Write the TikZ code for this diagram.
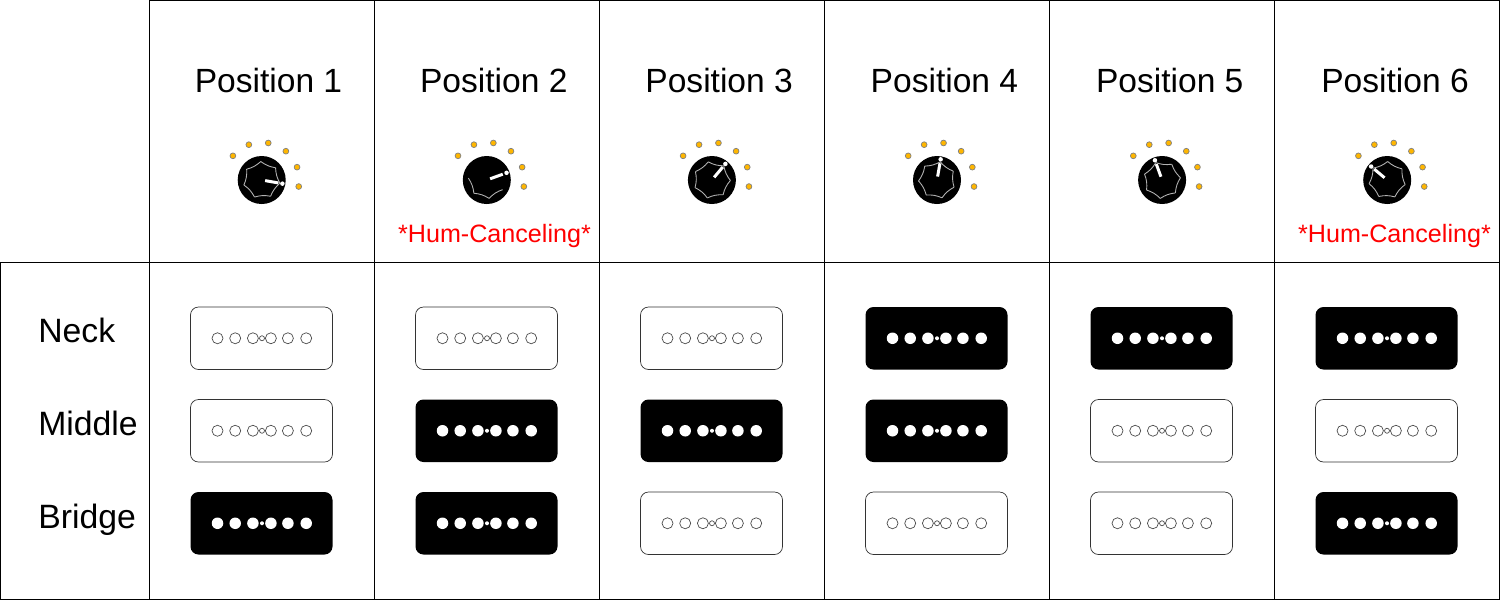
\documentclass[tikz,border=0pt]{standalone}
\usepackage{fontspec}
\setmainfont{Liberation Sans}
\usetikzlibrary{positioning, calc}
\definecolor{lamp}{HTML}{FFB600}

% switch marks around a knob: #1 node, #2 pointer angle, #3 first and #4 last side
\newcommand{\knobmarks}[4]{
	\foreach \a in {-10,20,50,80,110,140}
		\fill[lamp, draw=gray, thin] (#1.center) ++(\a:0.752) circle (0.058);
	\draw[white, line width=1.7pt] (#1.center) ++(#2:0.07) -- ++(#2:0.27);
	\fill[white] (#1.center) ++(#2:0.42) circle (0.045);
	\foreach \k in {#3,...,#4}
		\draw[white!70!black, line width=0.5pt] (#1.center) ++(#2+\k*51.43:0.37)
			to[bend left=13] ($(#1.center)+(#2+\k*51.43+51.43:0.37)$);
}

\begin{document}
\begin{tikzpicture}[
	pickupoff/.style = {draw = black!80, thin, rounded corners = 0.16cm, minimum width = 2.84cm,
		minimum height = 1.25cm, inner sep = 0pt, outer sep = 0pt},
	pickupon/.style = {fill = black, rounded corners = 0.16cm, minimum width = 2.84cm,
		minimum height = 1.25cm, inner sep = 0pt, outer sep = 0pt},
	knob/.style = {circle, fill = black, minimum size = 0.96cm, inner sep = 0pt},
	heading/.style = {font = \fontsize{19.1}{23}\selectfont, inner sep = 0pt},
	rowname/.style = {font = \fontsize{19.2}{23}\selectfont, inner sep = 0pt, anchor = base west},
	hum/.style = {font = \fontsize{14.3}{18}\selectfont, text = red, inner sep = 0pt},
	node distance = 0.6cm and 1.66cm, % gaps between pickups
	]
	
	\useasboundingbox (0,0) rectangle (30,-12);
	
	% table
	\draw[thin] (2.99,0) -- (2.99,-12);
	\draw[thin] (7.49,0) -- (7.49,-12);
	\draw[thin] (11.99,0) -- (11.99,-12);
	\draw[thin] (16.49,0) -- (16.49,-12);
	\draw[thin] (20.99,0) -- (20.99,-12);
	\draw[thin] (25.49,0) -- (25.49,-12);
	\draw[thin] (0,-5.25) -- (30,-5.25);
	\draw[thin] (2.99,-0.01) -- (29.99,-0.01) -- (29.99,-11.99) -- (0.01,-11.99) -- (0.01,-5.25);
	
	\node[heading] (p1) at (5.37,-1.61) {Position 1};
	\node[heading] (p2) [right=1.544cm of p1] {Position 2};
	\node[heading] (p3) [right=1.544cm of p2] {Position 3};
	\node[heading] (p4) [right=1.544cm of p3] {Position 4};
	\node[heading] (p5) [right=1.544cm of p4] {Position 5};
	\node[heading] (p6) [right=1.544cm of p5] {Position 6};
	
	\node[knob] (k1) at (5.234,-3.6) {};
	\node[knob] (k2) at (9.736,-3.6) {};
	\node[knob] (k3) at (14.238,-3.6) {};
	\node[knob] (k4) at (18.74,-3.6) {};
	\node[knob] (k5) at (23.242,-3.6) {};
	\node[knob] (k6) at (27.744,-3.6) {};
	
	\knobmarks{k1}{-10}{0}{6}
	\knobmarks{k2}{20}{3}{5}
	\knobmarks{k3}{50}{0}{6}
	\knobmarks{k4}{80}{0}{6}
	\knobmarks{k5}{110}{0}{6}
	\knobmarks{k6}{140}{0}{6}
	
	\node[hum] (h2) at (9.89,-4.71) {*Hum-Canceling*};
	\node[hum] (h6) at (27.89,-4.71) {*Hum-Canceling*};
	
	\node[rowname] (neck) at (0.76,-6.84) {Neck};
	\node[rowname] (middle) at (0.76,-8.70) {Middle};
	\node[rowname] (bridge) at (0.76,-10.56) {Bridge};
	
	\node[pickupoff] (n1) at (5.23,-6.765) {};
	\node[pickupoff] (m1) [below=of n1] {};
	\node[pickupon] (b1) [below=of m1] {};
	
	\node[pickupoff] (n2) [right=of n1] {};
	\node[pickupon] (m2) [below=of n2] {};
	\node[pickupon] (b2) [below=of m2] {};
	
	\node[pickupoff] (n3) [right=of n2] {};
	\node[pickupon] (m3) [below=of n3] {};
	\node[pickupoff] (b3) [below=of m3] {};
	
	\node[pickupon] (n4) [right=of n3] {};
	\node[pickupon] (m4) [below=of n4] {};
	\node[pickupoff] (b4) [below=of m4] {};
	
	\node[pickupon] (n5) [right=of n4] {};
	\node[pickupoff] (m5) [below=of n5] {};
	\node[pickupoff] (b5) [below=of m5] {};
	
	\node[pickupon] (n6) [right=of n5] {};
	\node[pickupoff] (m6) [below=of n6] {};
	\node[pickupon] (b6) [below=of m6] {};
	
	% pole pieces
	\foreach \p in {n1,m1,n2,n3,b3,b4,m5,b5,m6} {
		\foreach \x in {-0.88,-0.526,-0.172,0.188,0.528,0.894}
			\draw[black!70, thin] (\p.center) ++(\x,0) circle (0.11);
		\draw[black!70, thin] (\p.center) ++(0.01,0) circle (0.05);
	}
	\foreach \p in {b1,m2,b2,m3,n4,m4,n5,n6,b6} {
		\foreach \x in {-0.88,-0.526,-0.172,0.188,0.528,0.894}
			\fill[white] (\p.center) ++(\x,0) circle (0.115);
		\fill[white] (\p.center) ++(0.01,0) circle (0.04);
	}
	
\end{tikzpicture}
\end{document}
